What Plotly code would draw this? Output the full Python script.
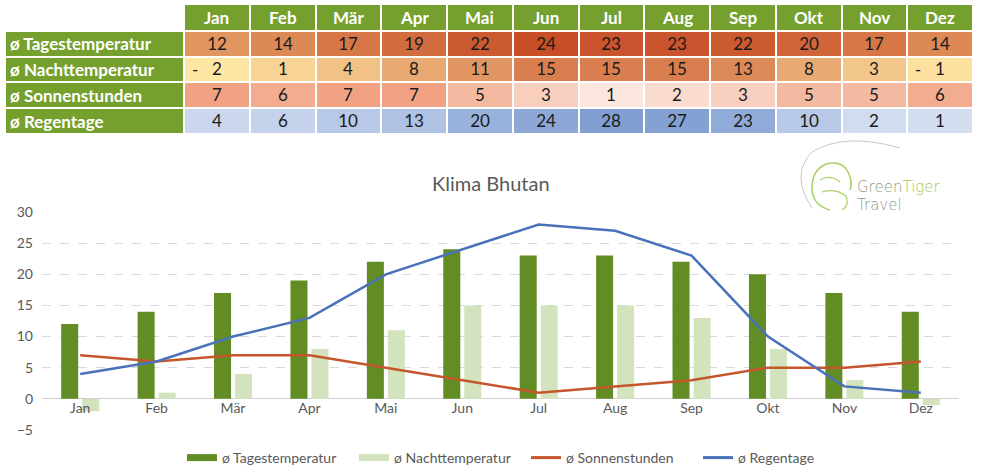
import plotly.graph_objects as go

months = ["Jan", "Feb", "Mär", "Apr", "Mai", "Jun", "Jul", "Aug", "Sep", "Okt", "Nov", "Dez"]
tages = [12, 14, 17, 19, 22, 24, 23, 23, 22, 20, 17, 14]
nacht = [-2, 1, 4, 8, 11, 15, 15, 15, 13, 8, 3, -1]
sonne = [7, 6, 7, 7, 5, 3, 1, 2, 3, 5, 5, 6]
regen = [4, 6, 10, 13, 20, 24, 28, 27, 23, 10, 2, 1]
row_labels = ["ø Tagestemperatur", "ø Nachttemperatur", "ø Sonnenstunden", "ø Regentage"]
y_ticks = [-5, 0, 5, 10, 15, 20, 25, 30]

W, H = 982, 475
GREEN = "#76A02E"
GRAY = "#595959"
C_TAGES = "#628C24"
C_NACHT = "#D2E3BE"
C_SONNE = "#C5562B"
C_REGEN = "#4A72B8"


def px_x(x):
    return x / W


def px_y(y):
    return 1 - y / H


def lerp_color(c1, c2, t):
    a = [int(c1[i:i + 2], 16) for i in (1, 3, 5)]
    b = [int(c2[i:i + 2], 16) for i in (1, 3, 5)]
    return "#" + "".join(f"{round(a[k] + (b[k] - a[k]) * t):02X}" for k in range(3))


def scale(vals, lo_c, hi_c):
    lo, hi = min(vals), max(vals)
    return [lerp_color(lo_c, hi_c, (v - lo) / (hi - lo)) for v in vals]


rows = [tages, nacht, sonne, regen]
row_colors = [
    scale(tages, "#E1955F", "#C84E28"),
    scale(nacht, "#FEE6A4", "#D97E4F"),
    scale(sonne, "#FCE6DE", "#F0A282"),
    scale(regen, "#D3DEF1", "#819FD2"),
]

# ---- table geometry (pixels) ----
col_edges = [5, 184] + [184 + 65.75 * k for k in range(1, 13)]
row_edges = [4, 31, 56.5, 82, 108, 134]

colors = []
z = []
text = []
for r in range(5):
    zr, tr = [], []
    for c in range(13):
        if r == 0:
            col = "white" if c == 0 else GREEN
            t = ""
        elif c == 0:
            col = GREEN
            t = ""
        else:
            col = row_colors[r - 1][c - 1]
            t = str(abs(rows[r - 1][c - 1]))
        zr.append(len(colors) + 0.5)
        colors.append(col)
        tr.append(t)
    z.append(zr)
    text.append(tr)
n = len(colors)
cscale = []
for k, col in enumerate(colors):
    cscale.append([k / n, col])
    cscale.append([(k + 1) / n, col])

fig = go.Figure()

fig.add_trace(go.Heatmap(
    x=col_edges, y=row_edges, z=z, text=text, texttemplate="%{text}",
    textfont=dict(family="Lato", size=17, color="#1A1A1A"),
    colorscale=cscale, zmin=0, zmax=n, showscale=False,
    xgap=2, ygap=2, hoverinfo="skip", xaxis="x2", yaxis="y2", showlegend=False,
))

# ---- chart ----
fig.add_trace(go.Bar(x=months, y=tages, name="ø Tagestemperatur", showlegend=False,
                     marker=dict(color=C_TAGES, line=dict(width=0))))
fig.add_trace(go.Bar(x=months, y=nacht, name="ø Nachttemperatur", showlegend=False,
                     marker=dict(color=C_NACHT, line=dict(width=0))))
fig.add_trace(go.Scatter(x=months, y=sonne, name="ø Sonnenstunden", mode="lines",
                         showlegend=False, line=dict(color=C_SONNE, width=2.5)))
fig.add_trace(go.Scatter(x=months, y=regen, name="ø Regentage", mode="lines",
                         showlegend=False, line=dict(color=C_REGEN, width=2.5)))

# legend keys (Excel style)
for name, col, w in [("ø Tagestemperatur", C_TAGES, 7), ("ø Nachttemperatur", C_NACHT, 7),
                     ("ø Sonnenstunden", C_SONNE, 3), ("ø Regentage", C_REGEN, 3)]:
    fig.add_trace(go.Scatter(x=[None], y=[None], mode="lines", name=name,
                             line=dict(color=col, width=w), hoverinfo="skip"))

LOGO_FONT = dict(family="DejaVu Sans", size=15, color="#8F9A86", weight=200)
annotations = [
    dict(text="Klima Bhutan", x=px_x(491), y=px_y(183), xref="paper", yref="paper",
         showarrow=False, font=dict(family="Lato", size=20, color=GRAY)),
    dict(text="Green<span style='color:#9DCB52'>Tiger</span>", x=px_x(855), y=px_y(187),
         xref="paper", yref="paper", xanchor="left", showarrow=False, font=LOGO_FONT),
    dict(text="Travel", x=px_x(855), y=px_y(205), xref="paper", yref="paper",
         xanchor="left", showarrow=False, font=LOGO_FONT),
]
for j, m in enumerate(months):
    cx = (col_edges[j + 1] + col_edges[j + 2]) / 2
    annotations.append(dict(text=f"<b>{m}</b>", x=cx, y=(row_edges[0] + row_edges[1]) / 2,
                            xref="x2", yref="y2", showarrow=False,
                            font=dict(family="Lato", size=17, color="white")))
for i, lab in enumerate(row_labels):
    cy = (row_edges[i + 1] + row_edges[i + 2]) / 2
    annotations.append(dict(text=f"<b>{lab}</b>", x=8, y=cy, xref="x2", yref="y2",
                            xanchor="left", showarrow=False,
                            font=dict(family="Lato", size=17, color="white")))
    for j in range(12):
        if rows[i][j] < 0:
            annotations.append(dict(text="-", x=col_edges[j + 1] + 6, y=cy, xref="x2",
                                    yref="y2", xanchor="left", showarrow=False,
                                    font=dict(family="Lato", size=17, color="#1A1A1A")))


def path(pts):
    s = f"M {px_x(pts[0][0])},{px_y(pts[0][1])}"
    for i in range(1, len(pts), 2):
        (ax, ay), (bx, by) = pts[i], pts[i + 1]
        s += f" Q {px_x(ax)},{px_y(ay)} {px_x(bx)},{px_y(by)}"
    return s


TIGER = "#A9D263"
shapes = [
    # logo swoosh
    dict(type="path", xref="paper", yref="paper",
         path=path([(812, 208), (790, 175), (812, 152), (845, 132), (900, 148)]),
         line=dict(color="#C8C8C8", width=1)),
    # stylised tiger head
    dict(type="path", xref="paper", yref="paper",
         path=path([(826, 164), (842, 160), (848, 172), (853, 182), (850, 190)]),
         line=dict(color=TIGER, width=1.5)),
    dict(type="path", xref="paper", yref="paper",
         path=path([(826, 164), (812, 170), (812, 188), (812, 205), (830, 210)]),
         line=dict(color=TIGER, width=1.5)),
    dict(type="path", xref="paper", yref="paper",
         path=path([(820, 180), (830, 174), (840, 182)]),
         line=dict(color=TIGER, width=1.2)),
    dict(type="path", xref="paper", yref="paper",
         path=path([(822, 192), (835, 188), (846, 196), (850, 205), (842, 210)]),
         line=dict(color=TIGER, width=1.2)),
]

fig.update_layout(
    width=W, height=H,
    margin=dict(l=0, r=0, t=0, b=0),
    paper_bgcolor="white", plot_bgcolor="rgba(0,0,0,0)",
    font=dict(family="Lato", color=GRAY, size=14),
    barmode="group", bargap=0.45, bargroupgap=0.19,
    showlegend=True,
    legend=dict(orientation="h", x=px_x(182), xanchor="left", y=px_y(458), yanchor="middle",
                font=dict(family="Lato", size=14, color=GRAY),
                entrywidth=127, entrywidthmode="pixels",
                traceorder="normal", bgcolor="rgba(0,0,0,0)"),
    xaxis=dict(domain=[px_x(42), px_x(959)], anchor="free", position=px_y(398),
               automargin=False, showgrid=False, showline=False, ticks="",
               tickfont=dict(size=14, color=GRAY), fixedrange=True),
    yaxis=dict(domain=[px_y(430), px_y(212)], range=[-5, 30], tickvals=y_ticks,
               automargin=False, showgrid=True, gridcolor="#D9D9D9", griddash="dash",
               gridwidth=1, zeroline=True, zerolinecolor="#D0D0D0", zerolinewidth=1,
               ticks="", tickfont=dict(size=14, color=GRAY), ticklabelstandoff=8),
    xaxis2=dict(domain=[px_x(5), px_x(975)], range=[5, 975], visible=False,
                anchor="y2", automargin=False),
    yaxis2=dict(domain=[px_y(134), px_y(4)], range=[134, 4], visible=False,
                anchor="x2", automargin=False),
    annotations=annotations,
    shapes=shapes,
)

fig.write_html("out.html", config={"displayModeBar": False},
               post_script="document.body.style.margin='0';")
